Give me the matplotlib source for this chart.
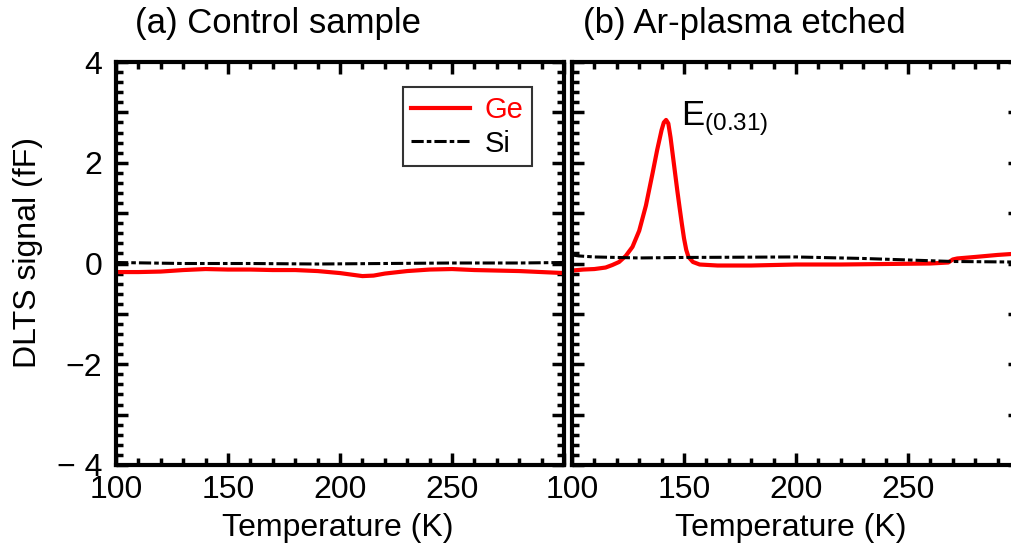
import matplotlib
matplotlib.use('Agg')
from matplotlib import pyplot as plt
from matplotlib.ticker import MultipleLocator, FixedFormatter, FixedLocator

plt.rcParams['font.family'] = ['Liberation Sans', 'DejaVu Sans']
plt.rcParams['mathtext.fontset'] = 'custom'
plt.rcParams['mathtext.rm'] = 'Liberation Sans'
plt.rcParams['mathtext.it'] = 'Liberation Sans'

# (a) control sample
t_a_ge = [100, 110, 120, 130, 140, 150, 160, 170, 180, 190, 200, 205, 210, 215, 220, 230, 240, 250, 260, 270, 280, 290, 300]
ge_a = [-0.17, -0.17, -0.16, -0.13, -0.11, -0.12, -0.12, -0.13, -0.13, -0.15, -0.19, -0.22, -0.25, -0.24, -0.2,
        -0.15, -0.12, -0.11, -0.13, -0.14, -0.15, -0.17, -0.19]
t_a_si = [100, 130, 160, 190, 220, 250, 280, 300]
si_a = [0.02, 0.0, 0.0, -0.01, 0.0, 0.01, 0.01, 0.02]

# (b) Ar-plasma etched
t_b_ge = [100, 105, 110, 115, 118, 121, 124, 127, 130, 133, 136, 138, 140, 141, 142, 143, 144, 145, 146, 147,
          148, 149, 150, 151, 152, 154, 157, 165, 180, 200, 220, 240, 260, 268, 270, 272, 280, 290, 300]
ge_b = [-0.14, -0.12, -0.11, -0.08, -0.03, 0.03, 0.15, 0.33, 0.65, 1.15, 1.8, 2.25, 2.65, 2.8, 2.85, 2.78, 2.5,
        2.15, 1.8, 1.45, 1.12, 0.8, 0.5, 0.27, 0.13, 0.03, -0.02, -0.04, -0.04, -0.02, -0.02, -0.01, 0.0, 0.02,
        0.08, 0.1, 0.13, 0.17, 0.2]
t_b_si = [100, 103, 110, 130, 150, 200, 230, 250, 270, 296, 300]
si_b = [0.17, 0.15, 0.13, 0.11, 0.12, 0.13, 0.1, 0.07, 0.04, 0.03, 0.02]

x_ticks = [100, 150, 200, 250, 300]
x_labels = ['100', '150', '200', '250', '']
y_ticks = [-4, -3, -2, -1, 0, 1, 2, 3, 4]
y_labels = ['\u2212 4', '', '\u22122', '', '0', '', '2', '', '4']

W, H = 1011, 547
fig = plt.figure(figsize=(W / 100, H / 100), dpi=100)
ax1 = fig.add_axes([116 / W, (H - 465) / H, 448 / W, 403 / H])
ax2 = fig.add_axes([572 / W, (H - 465) / H, 448 / W, 403 / H])

fs = 23
for ax in (ax1, ax2):
    ax.set_xlim(100, 300)
    ax.set_ylim(-4, 4)
    for s in ax.spines.values():
        s.set_linewidth(3)
    ax.xaxis.set_major_locator(FixedLocator(x_ticks))
    ax.xaxis.set_minor_locator(MultipleLocator(10))
    ax.yaxis.set_major_locator(FixedLocator(y_ticks))
    ax.yaxis.set_minor_locator(MultipleLocator(0.2))
    ax.tick_params(which='both', direction='in', top=True, right=True, width=2.5)
    ax.tick_params(which='major', length=8.5)
    ax.tick_params(which='minor', length=5)
    ax.tick_params(axis='x', labelsize=fs, pad=7)
    ax.tick_params(axis='y', labelsize=fs, pad=10)
    ax.xaxis.set_major_formatter(FixedFormatter(x_labels))

ax1.yaxis.set_major_formatter(FixedFormatter(y_labels))
ax2.tick_params(axis='y', labelleft=False)

ax1.plot(t_a_si, si_a, color='black', lw=2.2, dashes=(4, 1, 1.5, 1), label='Si', zorder=3)
ax1.plot(t_a_ge, ge_a, color='red', lw=3, label='Ge', zorder=2)
ax2.plot(t_b_si, si_b, color='black', lw=2.2, dashes=(4, 1, 1.5, 1), zorder=3)
ax2.plot(t_b_ge, ge_b, color='red', lw=3, zorder=2)

h, l = ax1.get_legend_handles_labels()
leg = ax1.legend([h[1], h[0]], [l[1], l[0]], loc='upper right', bbox_to_anchor=((532 - 116) / 448, (465 - 87) / 403),
                 fontsize=21, frameon=True, fancybox=False, edgecolor='black', handlelength=2.0,
                 handletextpad=0.5, borderpad=0.3, labelspacing=0.2, borderaxespad=0)
leg.get_frame().set_linewidth(1.5)
leg.get_texts()[0].set_color('red')

ax2.text(148.5, 2.75, r'E$_{\mathrm{(0.31)}}$', fontsize=25, ha='left', va='baseline')

fig.text(135 / W, 1 - 23 / H, '(a) Control sample', fontsize=25, ha='left', va='center')
fig.text(583 / W, 1 - 23 / H, '(b) Ar-plasma etched', fontsize=25, ha='left', va='center')
fig.text(338 / W, 1 - 528 / H, 'Temperature (K)', fontsize=fs, ha='center', va='center')
fig.text(791 / W, 1 - 528 / H, 'Temperature (K)', fontsize=fs, ha='center', va='center')
fig.text(28 / W, 1 - 253 / H, 'DLTS signal (fF)', fontsize=fs, ha='center', va='center', rotation=90)

fig.savefig('out.png', dpi=100)
